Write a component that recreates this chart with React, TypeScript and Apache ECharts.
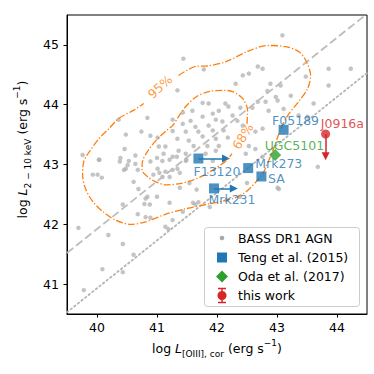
import React, { useEffect, useRef } from 'react';
import * as echarts from 'echarts';

const FONT = 'DejaVu Sans';

const xTicks = [40, 41, 42, 43, 44];
const yTicks = [41, 42, 43, 44, 45];

const seriesNames = ['BASS DR1 AGN', 'Teng et al. (2015)', 'Oda et al. (2017)', 'this work'];

// BASS DR1 AGN (grey points)
const bassX = [
  40.36, 40.84, 40.48, 40.74, 40.89, 41.01, 40.03, 40.46, 40.64, 40.39, 40.53, 41.03, 41.11, 41.09, 40.89,
  41.44, 41.78, 42.68, 42.76, 42.53, 42.43, 42.31, 41.34, 41.76, 41.86, 42.14, 42.19, 41.59, 41.43, 41.93,
  42.03, 42.39, 42.68, 42.59, 41.26, 41.56, 41.76, 41.98, 42.26, 42.34, 41.43, 41.64, 41.86, 42.09, 42.43,
  41.26, 41.48, 41.69, 41.93, 42.11, 41.76, 41.98, 42.18, 42.64, 42.76, 41.34, 41.53, 41.61, 41.84, 42.03,
  41.14, 41.36, 41.48, 41.81, 41.98, 42.53, 42.64, 41.26, 41.48, 41.93, 42.48, 42.76,
  43.09, 42.89, 43.06, 42.84, 42.98, 43.01, 42.81, 43.86, 44.23, 43.48, 43.86, 43.23, 43.61, 42.86, 43.11, 43.36, 43.51,
  39.93, 40.01, 40.08, 40.45, 40.48, 40.51, 40.64, 40.68, 40.61, 40.69, 40.81, 40.79, 40.84, 40.68, 40.81,
  40.89, 40.43, 40.94, 41.09, 41.14, 41.01, 41.14, 39.69, 40.19, 40.43, 40.61, 40.09, 40.43, 39.78,
  41.26, 41.34, 41.69, 41.64, 41.43, 41.26, 41.19,
  43.68, 43.03,
  39.76, 40.04, 40.38,
  41.00, 41.21, 41.33, 41.49, 41.04, 41.21, 41.38, 41.54, 41.66, 41.38, 41.00, 40.88, 41.21, 41.60, 41.88,
  42.16, 42.38, 42.50, 43.01,
];
const bassY = [
  43.75, 43.78, 43.50, 43.55, 43.48, 43.45, 43.08, 43.26, 43.15, 43.11, 43.06, 43.30, 43.18, 43.06, 43.05,
  44.77, 44.59, 44.64, 44.60, 44.52, 44.49, 44.35, 44.24, 44.03, 44.02, 44.02, 43.97, 43.90, 43.87, 43.85,
  43.90, 43.95, 44.05, 43.95, 43.75, 43.73, 43.80, 43.75, 43.82, 43.73, 43.68, 43.63, 43.65, 43.72, 43.65,
  43.56, 43.55, 43.55, 43.57, 43.57, 43.47, 43.43, 43.45, 43.55, 43.60, 43.43, 43.40, 43.31, 43.31, 43.31,
  43.30, 43.23, 43.18, 43.18, 43.23, 43.31, 43.26, 43.13, 43.06, 43.06, 43.18, 43.13,
  45.16, 44.35, 44.32, 44.23, 44.13, 44.07, 44.05, 44.60, 44.60, 44.47, 44.32, 44.15, 44.02, 43.90, 43.93, 43.82, 43.80,
  42.83, 42.83, 42.78, 42.91, 42.93, 42.99, 43.01, 42.91, 42.71, 42.59, 42.43, 42.34, 42.46, 42.17, 42.12,
  42.11, 42.33, 42.83, 42.79, 42.88, 42.93, 41.96, 41.94, 41.82, 41.67, 41.49, 41.25, 41.20, 40.90,
  42.91, 42.93, 42.37, 42.33, 42.21, 42.07, 41.92,
  42.96, 42.59,
  43.16, 43.08, 43.05,
  43.11, 43.08, 43.13, 43.08, 42.86, 42.79, 42.86, 42.69, 42.58, 42.61, 42.46, 42.33, 42.36, 42.36, 42.29,
  42.41, 42.46, 42.69, 42.61,
];

// relations
const relX = [39.5, 44.5];
const dashedY = [41.52, 45.52];
const dottedY = [40.53, 44.53];

// density contours
const contour95X = [41.36, 41.65, 41.86, 42.15, 42.53, 42.85, 43.15, 43.36, 43.48, 43.56, 43.51, 43.36, 43.20, 43.10, 43.03, 42.95, 42.86, 42.76, 42.65, 42.48, 42.26, 41.86, 41.48, 41.15, 40.81, 40.56, 40.31, 40.10, 39.93, 39.81, 39.76, 39.78, 39.85, 40.03, 40.20, 40.36, 40.60, 40.78];
const contour95Y = [44.49, 44.64, 44.65, 44.72, 44.90, 44.99, 44.97, 44.89, 44.74, 44.49, 44.27, 44.05, 43.85, 43.68, 43.51, 43.28, 43.06, 42.84, 42.71, 42.54, 42.43, 42.34, 42.26, 42.17, 42.04, 42.00, 42.07, 42.21, 42.38, 42.59, 42.83, 43.05, 43.18, 43.43, 43.60, 43.77, 43.90, 44.02];
const contour68X = [42.50, 42.51, 42.43, 42.26, 42.10, 41.86, 41.65, 41.48, 41.36, 41.26, 41.15, 40.98, 40.85, 40.76, 40.75, 40.85, 40.98, 41.15, 41.38, 41.60, 41.80, 41.98, 42.15, 42.25];
const contour68Y = [43.68, 43.90, 44.10, 44.22, 44.24, 44.22, 44.13, 43.97, 43.80, 43.65, 43.56, 43.40, 43.23, 43.06, 42.91, 42.79, 42.71, 42.66, 42.68, 42.74, 42.83, 42.94, 43.06, 43.18];
const contourLabels = ['95%', '68%'];
const contourLabelX = [41.05, 42.43];
const contourLabelY = [44.30, 43.47];
const contourLabelAngle = [42, 58];

// Teng et al. (2015)
const tengNames = ['F05189', 'F13120', 'Mrk273', 'SA', 'Mrk231'];
const tengX = [43.11, 41.69, 42.52, 42.74, 41.95];
const tengY = [43.58, 43.10, 42.94, 42.80, 42.60];
const tengLimitX = [null, 42.15, null, null, 42.28];
const tengLabelX = [43.31, 42.00, 43.03, 42.99, 42.25];
const tengLabelY = [43.73, 42.89, 43.02, 42.76, 42.41];

// Oda et al. (2017)
const odaNames = ['UGC5101'];
const odaX = [42.97];
const odaY = [43.16];
const odaLabelX = [43.29];
const odaLabelY = [43.31];

// this work
const workNames = ['J0916a'];
const workX = [43.81];
const workY = [43.51];
const workLimitY = [43.14];
const workLabelX = [44.09];
const workLabelY = [43.68];

const BLUE = '#1f77b4';
const GREEN = '#2ca02c';
const RED = '#d62728';
const ORANGE = '#ff7f0e';

export default function App() {
  const ref = useRef<HTMLDivElement>(null);
  useEffect(() => {
    const chart = echarts.init(ref.current!, null, { renderer: 'svg' });

    const pairs = (xs: number[], ys: number[]) => xs.map((x, i) => [x, ys[i]]);
    const labelSeries = (names: string[], xs: number[], ys: number[], color: string, id: string) => ({
      type: 'scatter',
      id,
      silent: true,
      symbolSize: 0,
      z: 20,
      data: names.map((n, i) => ({ name: n, value: [xs[i], ys[i]] })),
      label: {
        show: true,
        position: 'inside',
        formatter: '{b}',
        color,
        fontFamily: FONT,
        fontSize: 12.5,
        lineHeight: 10,
      },
    });

    const axisNameRich = {
      n: { fontFamily: FONT, fontSize: 12.5, color: '#000', lineHeight: 20, verticalAlign: 'middle' },
      i: { fontFamily: FONT, fontSize: 12.5, fontStyle: 'italic', color: '#000', lineHeight: 20, verticalAlign: 'middle' },
      s: { fontFamily: FONT, fontSize: 9, color: '#000', lineHeight: 10, verticalAlign: 'bottom' },
      p: { fontFamily: FONT, fontSize: 9, color: '#000', lineHeight: 12, verticalAlign: 'top' },
    };

    const legendRows = [238, 257.5, 276.5, 295.5];
    const mx = 222;

    const option: any = {
      animation: false,
      backgroundColor: '#ffffff',
      grid: {
        left: 67,
        top: 15,
        width: 300,
        height: 299,
        show: true,
        borderColor: '#000',
        borderWidth: 1,
        backgroundColor: 'transparent',
      },
      xAxis: {
        type: 'value',
        min: 39.5,
        max: 44.5,
        name: '{n|log }{i|L}{s|[OIII], cor}{n| (erg s}{p|−1}{n|)}',
        nameLocation: 'middle',
        nameGap: 24,
        nameTextStyle: { rich: axisNameRich },
        axisLine: { show: true, lineStyle: { color: '#000', width: 1 } },
        axisTick: { show: true, length: 3.5, lineStyle: { color: '#000' }, customValues: xTicks },
        axisLabel: { show: true, color: '#000', fontFamily: FONT, fontSize: 12.5, margin: 7, customValues: xTicks },
        splitLine: { show: false },
      },
      yAxis: {
        type: 'value',
        min: 40.5,
        max: 45.5,
        name: '{n|log }{i|L}{s|2 − 10 keV}{n| (erg s}{p|−1}{n|)}',
        nameLocation: 'middle',
        nameGap: 29,
        nameTextStyle: { rich: axisNameRich, padding: [0, 0, 0, 30] },
        axisLine: { show: true, lineStyle: { color: '#000', width: 1 } },
        axisTick: { show: true, length: 3.5, lineStyle: { color: '#000' }, customValues: yTicks },
        axisLabel: { show: true, color: '#000', fontFamily: FONT, fontSize: 12.5, margin: 8, customValues: yTicks },
        splitLine: { show: false },
      },
      series: [
        {
          type: 'scatter',
          name: seriesNames[0],
          symbol: 'circle',
          symbolSize: 4.5,
          itemStyle: { color: '#b0b0b0', opacity: 0.75 },
          data: pairs(bassX, bassY),
          z: 2,
        },
        {
          type: 'line',
          data: pairs(relX, dashedY),
          symbol: 'none',
          lineStyle: { color: '#bdbdbd', width: 1.8, type: [8, 3.6] },
          z: 3,
          silent: true,
        },
        {
          type: 'line',
          data: pairs(relX, dottedY),
          symbol: 'none',
          lineStyle: { color: '#b5b5b5', width: 1.8, type: [1.6, 3], cap: 'round' },
          z: 3,
          silent: true,
        },
        {
          type: 'line',
          data: pairs(contour95X, contour95Y),
          symbol: 'none',
          smooth: 0.3,
          lineStyle: { color: ORANGE, width: 1.3, type: [7, 2, 1.3, 2] },
          z: 5,
          silent: true,
        },
        {
          type: 'line',
          data: pairs(contour68X, contour68Y),
          symbol: 'none',
          smooth: 0.3,
          lineStyle: { color: ORANGE, width: 1.3, type: [7, 2, 1.3, 2] },
          z: 5,
          silent: true,
        },
        {
          type: 'scatter',
          silent: true,
          symbolSize: 0,
          z: 6,
          data: contourLabels.map((n, i) => ({
            name: n,
            value: [contourLabelX[i], contourLabelY[i]],
            label: { rotate: contourLabelAngle[i] },
          })),
          label: {
            show: true,
            position: 'inside',
            formatter: '{b}',
            color: ORANGE,
            fontFamily: FONT,
            fontSize: 12.5,
            lineHeight: 11,
          },
        },
        {
          type: 'scatter',
          name: seriesNames[1],
          symbol: 'rect',
          symbolSize: 10,
          itemStyle: { color: BLUE },
          data: pairs(tengX, tengY),
          z: 10,
          markLine: {
            silent: true,
            symbol: ['none', 'triangle'],
            symbolSize: [8, 8],
            lineStyle: { color: BLUE, width: 1.5, type: 'solid' },
            label: { show: false },
            data: tengLimitX
              .map((lx, i) => (lx == null ? null : [{ coord: [tengX[i], tengY[i]] }, { coord: [lx, tengY[i]] }]))
              .filter((d) => d !== null),
          },
        },
        {
          type: 'scatter',
          name: seriesNames[2],
          symbol: 'diamond',
          symbolSize: 12,
          itemStyle: { color: GREEN },
          data: pairs(odaX, odaY),
          z: 10,
        },
        {
          type: 'scatter',
          name: seriesNames[3],
          symbol: 'circle',
          symbolSize: 9,
          itemStyle: { color: RED },
          data: pairs(workX, workY),
          z: 10,
          markLine: {
            silent: true,
            symbol: ['none', 'triangle'],
            symbolSize: [8, 8],
            lineStyle: { color: RED, width: 1.5, type: 'solid' },
            label: { show: false },
            data: workX.map((x, i) => [{ coord: [x, workY[i]] }, { coord: [x, workLimitY[i]] }]),
          },
        },
        labelSeries(tengNames, tengLabelX, tengLabelY, BLUE, 'tengLabels'),
        labelSeries(odaNames, odaLabelX, odaLabelY, GREEN, 'odaLabels'),
        labelSeries(workNames, workLabelX, workLabelY, RED, 'workLabels'),
      ],
      graphic: [
        {
          type: 'rect',
          z: 100,
          shape: { x: 204.5, y: 227.5, width: 155, height: 79, r: 3 },
          style: { fill: 'rgba(255,255,255,0.85)', stroke: '#cccccc', lineWidth: 1 },
        },
        { type: 'circle', z: 101, shape: { cx: mx, cy: legendRows[0], r: 2.3 }, style: { fill: '#a8a8a8' } },
        { type: 'rect', z: 101, shape: { x: mx - 5, y: legendRows[1] - 5, width: 10, height: 10 }, style: { fill: BLUE } },
        {
          type: 'polygon',
          z: 101,
          shape: { points: [[mx, legendRows[2] - 6], [mx + 6, legendRows[2]], [mx, legendRows[2] + 6], [mx - 6, legendRows[2]]] },
          style: { fill: GREEN },
        },
        { type: 'line', z: 101, shape: { x1: mx, y1: legendRows[3] - 7, x2: mx, y2: legendRows[3] + 7 }, style: { stroke: RED, lineWidth: 1.5 } },
        { type: 'line', z: 101, shape: { x1: mx - 4, y1: legendRows[3] - 7, x2: mx + 4, y2: legendRows[3] - 7 }, style: { stroke: RED, lineWidth: 1.5 } },
        { type: 'line', z: 101, shape: { x1: mx - 4, y1: legendRows[3] + 7, x2: mx + 4, y2: legendRows[3] + 7 }, style: { stroke: RED, lineWidth: 1.5 } },
        { type: 'circle', z: 102, shape: { cx: mx, cy: legendRows[3], r: 4.5 }, style: { fill: RED } },
        ...seriesNames.map((n, i) => ({
          type: 'text',
          z: 102,
          x: 238,
          y: legendRows[i],
          style: {
            text: n,
            fill: '#000',
            fontFamily: FONT,
            fontSize: 12.5,
            verticalAlign: 'middle',
            textVerticalAlign: 'middle',
          },
        })),
      ],
    };

    chart.setOption(option);
    return () => chart.dispose();
  }, []);

  return <div ref={ref} style={{ position: 'fixed', left: 0, top: 0, width: 374, height: 374 }} />;
}
